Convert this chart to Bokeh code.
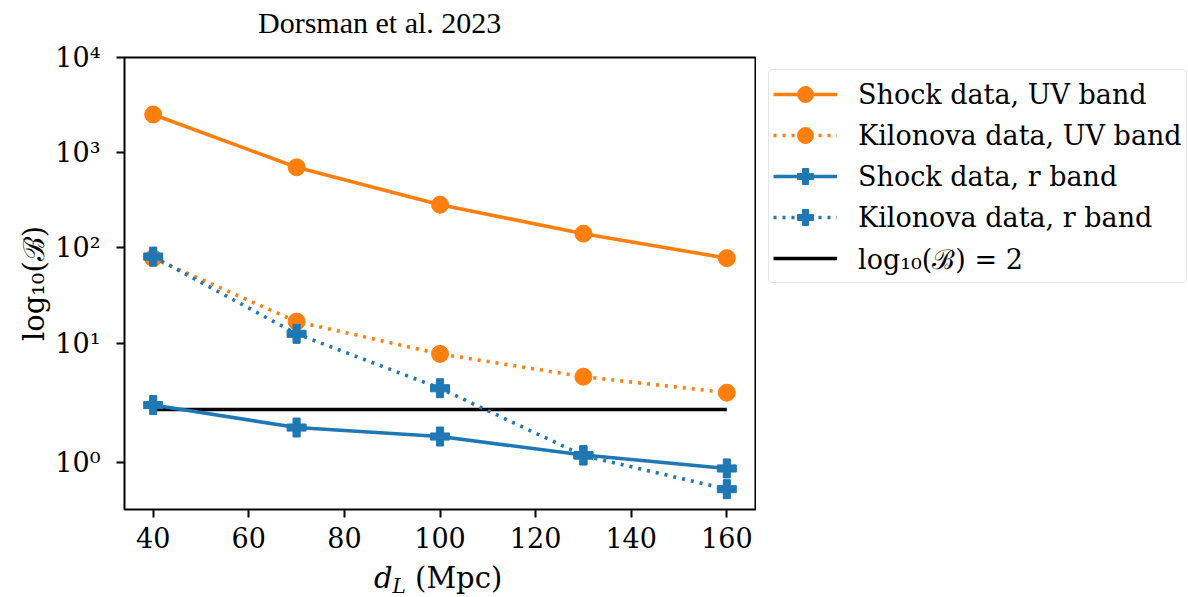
import math
from bokeh.plotting import figure
from bokeh.layouts import column, row
from bokeh.models import Range1d, FixedTicker, Legend, LegendItem, Div
from bokeh.embed import file_html
from bokeh.resources import INLINE

# ---- data (values of log10(B)) ----
d_L = [40, 70, 100, 130, 160]
shock_uv = [2520, 702, 284, 141, 78]
kilonova_uv = [78, 16.8, 7.68, 4.43, 3.01]
shock_r = [2.23, 1.66, 1.49, 1.14, 0.886]
kilonova_r = [81, 12.5, 3.35, 1.13, 0.494]
threshold = 2
x_ticks = [40, 60, 80, 100, 120, 140, 160]
y_tick_values = [1, 10, 100, 1000, 10000]
y_tick_labels = ["10\u2070", "10\u00b9", "10\u00b2", "10\u00b3", "10\u2074"]
series_labels = ["Shock data, UV band", "Kilonova data, UV band",
                 "Shock data, r band", "Kilonova data, r band",
                 "log\u2081\u2080(\u212c) = 2"]

ORANGE = "#ff7f0e"
BLUE = "#1f77b4"
SERIF = "DejaVu Serif"
FS = "27px"
LW = 3.6
DOT = "3 6"


def symlog(v, linthresh=2.0, base=10.0):
    """matplotlib-style symlog transform (linscale=1)."""
    adj = 1.0 / (1.0 - 1.0 / base)
    a = abs(v)
    if a <= linthresh:
        return v * adj
    s = 1.0 if v > 0 else -1.0
    return s * linthresh * (adj + math.log(a / linthresh, base))


def tr(vals):
    return [symlog(v) for v in vals]


series = [
    (shock_uv, ORANGE, None, "circle", 17),
    (kilonova_uv, ORANGE, DOT, "circle", 17),
    (shock_r, BLUE, None, "plus", 19),
    (kilonova_r, BLUE, DOT, "plus", 19),
]

# ---------------- title (real text) ----------------
title = Div(
    text="Dorsman et al. 2023",
    width=1188, height=40,
    styles={"font-family": "Liberation Serif", "font-size": "30px", "color": "black",
            "padding-left": "258px", "padding-top": "6px",
            "line-height": "34px", "margin": "0", "white-space": "nowrap"},
)

# ---------------- main plot ----------------
p = figure(
    width=756, height=520,
    x_range=Range1d(34, 166),
    y_range=Range1d(symlog(0.11), symlog(10000)),
    output_backend="svg", toolbar_location=None, title_location=None,
    min_border_left=124, min_border_right=1,
    min_border_top=17, min_border_bottom=51,
)
p.grid.visible = False
p.background_fill_color = "white"
p.border_fill_color = "white"
p.outline_line_color = "black"
p.outline_line_width = 2

for ax in (p.xaxis[0], p.yaxis[0]):
    ax.axis_line_color = None
    ax.major_tick_line_color = "black"
    ax.major_tick_line_width = 2
    ax.major_tick_out = 8
    ax.major_tick_in = 0
    ax.minor_tick_line_color = None
    ax.major_label_text_font = SERIF
    ax.major_label_text_font_size = FS
    ax.major_label_text_color = "black"
    ax.major_label_standoff = 9

p.xaxis.ticker = FixedTicker(ticks=x_ticks)
p.xaxis.axis_label = None

y_pos = tr(y_tick_values)
p.yaxis.ticker = FixedTicker(ticks=y_pos)
p.yaxis.major_label_overrides = {pos: lab for pos, lab in zip(y_pos, y_tick_labels)}
p.yaxis.major_label_standoff = 16
p.yaxis.axis_label = "log\u2081\u2080(\u212c)"
p.yaxis.axis_label_text_font = SERIF
p.yaxis.axis_label_text_font_size = "29px"
p.yaxis.axis_label_text_font_style = "normal"
p.yaxis.axis_label_text_color = "black"
p.yaxis.axis_label_standoff = 1

p.line([d_L[0], d_L[-1]], tr([threshold, threshold]), line_color="black", line_width=LW)
for vals, col, dash, marker, size in series:
    kw = dict(line_color=col, line_width=LW)
    if dash:
        kw["line_dash"] = dash
    p.line(d_L, tr(vals), **kw)
    p.scatter(d_L, tr(vals), marker=marker, size=size, fill_color=col, line_color=col)

# ---------------- legend panel (separate canvas to the right) ----------------
lp = figure(
    width=432, height=520,
    x_range=Range1d(0, 1), y_range=Range1d(0, 1),
    x_axis_type=None, y_axis_type=None,
    output_backend="svg", toolbar_location=None, title_location=None,
    min_border_left=0, min_border_right=0, min_border_top=17, min_border_bottom=51,
)
lp.outline_line_color = None
lp.background_fill_color = "white"
lp.border_fill_color = "white"

# legend sample renderers carry the same data (they fall outside this canvas' view)
items = []
for label, (vals, col, dash, marker, size) in zip(series_labels, series):
    kw = dict(line_color=col, line_width=LW)
    if dash:
        kw["line_dash"] = dash
    rl = lp.line(d_L, tr(vals), **kw)
    rm = lp.scatter(d_L, tr(vals), marker=marker, size=size, fill_color=col, line_color=col)
    items.append(LegendItem(label=label, renderers=[rl, rm]))
rt = lp.line([d_L[0], d_L[-1]], tr([threshold, threshold]), line_color="black", line_width=LW)
items.append(LegendItem(label=series_labels[4], renderers=[rt]))

legend = Legend(
    items=items,
    location="top_left",
    margin=12,
    padding=4,
    spacing=1,
    glyph_width=64,
    glyph_height=40,
    label_height=40,
    label_standoff=21,
    label_text_font=SERIF,
    label_text_font_size=FS,
    label_text_color="black",
    label_text_baseline="middle",
    border_line_color="#cccccc",
    border_line_width=1.5,
    background_fill_color="white",
    background_fill_alpha=1.0,
)
if hasattr(legend, "border_radius"):
    legend.border_radius = 5
lp.add_layout(legend, "center")

# ---------------- x axis label as real HTML text ----------------
xlabel = Div(
    text='<span style="font-style:italic">d</span>'
         '<span style="font-style:italic;font-size:20px;position:relative;top:5px">L</span>'
         '<span>&nbsp;(Mpc)</span>',
    width=1188, height=37,
    styles={"font-family": "DejaVu Serif", "font-size": "29px", "color": "black",
            "padding-left": "374px", "padding-top": "3px",
            "line-height": "30px", "margin": "0", "white-space": "nowrap"},
)

layout = column(title, row(p, lp, spacing=0), xlabel, spacing=0)
open("out.html", "w").write(file_html(layout, INLINE))
